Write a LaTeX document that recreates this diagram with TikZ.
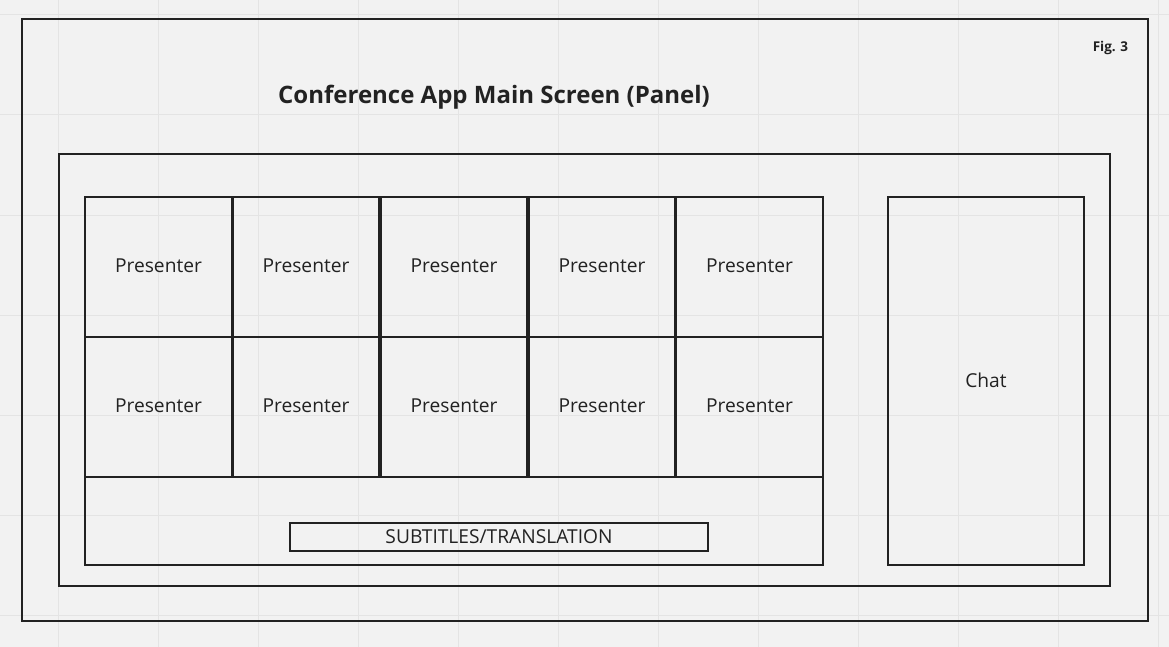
\documentclass[tikz,border=0pt]{standalone}
\usepackage{fontspec}
\setmainfont{Open Sans}
\definecolor{bg}{HTML}{F2F2F2}
\definecolor{gridc}{HTML}{E4E4E4}
\definecolor{ink}{HTML}{222222}
\begin{document}
\begin{tikzpicture}[x=1pt,y=-1pt,
  box/.style={draw=ink, line width=2pt, fill=none, inner sep=0pt, outer sep=0pt, anchor=north west},
  cell/.style={box, line width=2.6pt, minimum width=147pt, minimum height=140pt},
  lbl/.style={text=ink, inner sep=0pt, font=\fontsize{19.2}{22}\selectfont}]
\fill[bg] (0,0) rectangle (1169,647);
\useasboundingbox (0,0) rectangle (1169,647);
\foreach \x in {58,158,...,1158} \draw[gridc, line width=1pt] (\x,0) -- (\x,647);
\foreach \y in {15,115,...,615} \draw[gridc, line width=1pt] (0,\y) -- (1169,\y);
% outer frame
\node[box, minimum width=1126pt, minimum height=602pt] (outer) at (22,19) {};
\node[lbl, font=\bfseries\fontsize{13.5}{15}\selectfont] (fig) at (1110.5,47.5) {Fig. 3};
\node[lbl, font=\bfseries\fontsize{24}{28}\selectfont] (title) at (494,97) {Conference App Main Screen (Panel)};
% panel
\node[box, minimum width=1051pt, minimum height=432pt] (panel) at (59,154) {};
% presenter grid
\foreach \i/\x in {1/85,2/232.5,3/380.5,4/528.5,5/676} {
  \node[cell] (p1\i) at (\x,197) {};
  \node[lbl] at ([yshift=1pt]p1\i.center) {Presenter};
  \node[cell] (p2\i) at (\x,337) {};
  \node[lbl] at ([yshift=1pt]p2\i.center) {Presenter};
}
\node[box, minimum width=738pt, minimum height=88pt] (bottom) at (85,477) {};
\node[box, minimum width=418pt, minimum height=28pt] (subs) at (290,523) {};
\node[lbl] at (subs.center) {SUBTITLES/TRANSLATION};
% chat
\node[box, minimum width=196pt, minimum height=368pt] (chat) at (888,197) {};
\node[lbl] at ([yshift=0.5pt]chat.center) {Chat};
\end{tikzpicture}
\end{document}
